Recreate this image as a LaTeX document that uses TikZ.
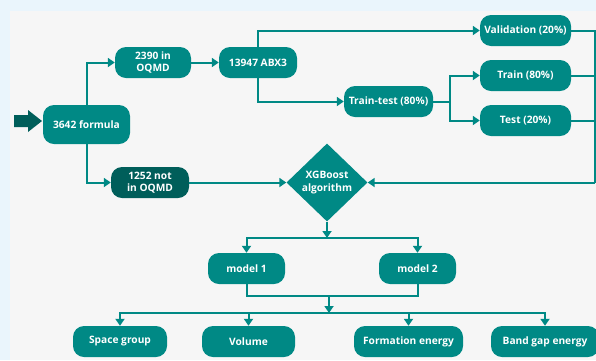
\documentclass[tikz,border=0pt]{standalone}
\usepackage{fontspec}
\setmainfont{Open Sans}
\usepackage{tikz}
\usetikzlibrary{shapes.geometric}
\usetikzlibrary{arrows.meta}
\definecolor{boxteal}{RGB}{0,137,133}
\definecolor{boxdark}{RGB}{0,94,90}
\definecolor{pagebg}{RGB}{234,245,252}
\definecolor{panelbg}{RGB}{246,246,246}

\begin{document}
\begin{tikzpicture}[x=1pt, y=-1pt,
    box/.style={shape=rectangle, rounded corners=11pt, fill=boxteal, text=white, minimum height=31pt, inner sep=2pt, font=\bfseries\fontsize{10.2}{12.5}\selectfont, align=center},
    wire/.style={draw=boxteal, line width=2pt},
    arr/.style={wire, -{Triangle[width=9pt,length=7pt]}}]
		% Background:
		\fill[pagebg] (0,0) rectangle (596,360);
		\fill[panelbg] (10,11) rectangle (596,360);
		\useasboundingbox (0,0) rectangle (596,360);
		% Nodes:
		\node[box, minimum width=87pt, minimum height=39pt](N1) at (86.5,124.5){3642 formula};
		\node[box, minimum width=76pt](N2) at (153,62.5){2390 in\\OQMD};
		\node[box, minimum width=78pt](N3) at (258,62.5){13947 ABX3};
		\node[box, fill=boxdark, minimum width=78pt](N4) at (150,182.5){1252 not\\in OQMD};
		\node[box, minimum width=91pt](N5) at (525.5,30.5){Validation (20\%)};
		\node[box, minimum width=91pt](N6) at (525.5,75.5){Train (80\%)};
		\node[box, minimum width=91pt](N7) at (525.5,120.5){Test (20\%)};
		\node[box, minimum width=89pt](N8) at (388.5,101.5){Train-test (80\%)};
		\node[box, shape=diamond, rounded corners=0pt, minimum width=81pt, minimum height=78pt, inner sep=0pt](XG) at (327,182.5){XGBoost\\algorithm};
		\node[box, minimum width=77pt](M1) at (246.5,268.5){model 1};
		\node[box, minimum width=77pt](M2) at (417.5,268.5){model 2};
		\node[box, minimum width=94pt](O1) at (120,341.5){Space group};
		\node[box, minimum width=93pt](O2) at (248.5,341.5){Volume};
		\node[box, minimum width=109pt](O3) at (408.5,341.5){Formation energy};
		\node[box, minimum width=108pt](O4) at (545,341.5){Band gap energy};
		% Input arrow:
		\fill[boxdark] (14,115) -- (28,115) -- (28,110) -- (42,121) -- (28,132) -- (28,127) -- (14,127) -- cycle;
		% Wires:
		\coordinate (R) at (595,182.5);
		\coordinate (S1) at (327,238);
		\coordinate (S2) at (329,296);
		\coordinate (S3) at (329,313);
		\draw[arr] (N1.north) |- (N2.west);
		\draw[arr] (N1.south) |- (N4.west);
		\draw[arr] (N2) -- (N3);
		\draw[arr] (N3.north) |- (N5.west);
		\draw[arr] (N3.south) |- (N8.west);
		\draw[arr] (N8.east) -- ++(17,0) |- (N6.west);
		\draw[arr] (N8.east) -- ++(17,0) |- (N7.west);
		\draw[wire] (N5.east) -| (R);
		\draw[wire] (N6.east) -- (N6.east -| R);
		\draw[wire] (N7.east) -- (N7.east -| R);
		\draw[arr] (R) -- (XG.east);
		\draw[arr] (N4.east) -- (XG.west);
		\draw[arr] (XG.south) -- (S1);
		\draw[arr] (S1) -| (M1.north);
		\draw[arr] (S1) -| (M2.north);
		\draw[wire] (M1.south) |- (S2) -| (M2.south);
		\draw[arr] (S2) -- (S3);
		\foreach \o in {O1,O2,O3,O4}
			\draw[arr] (S3) -| (\o.north);
\end{tikzpicture}
\end{document}
